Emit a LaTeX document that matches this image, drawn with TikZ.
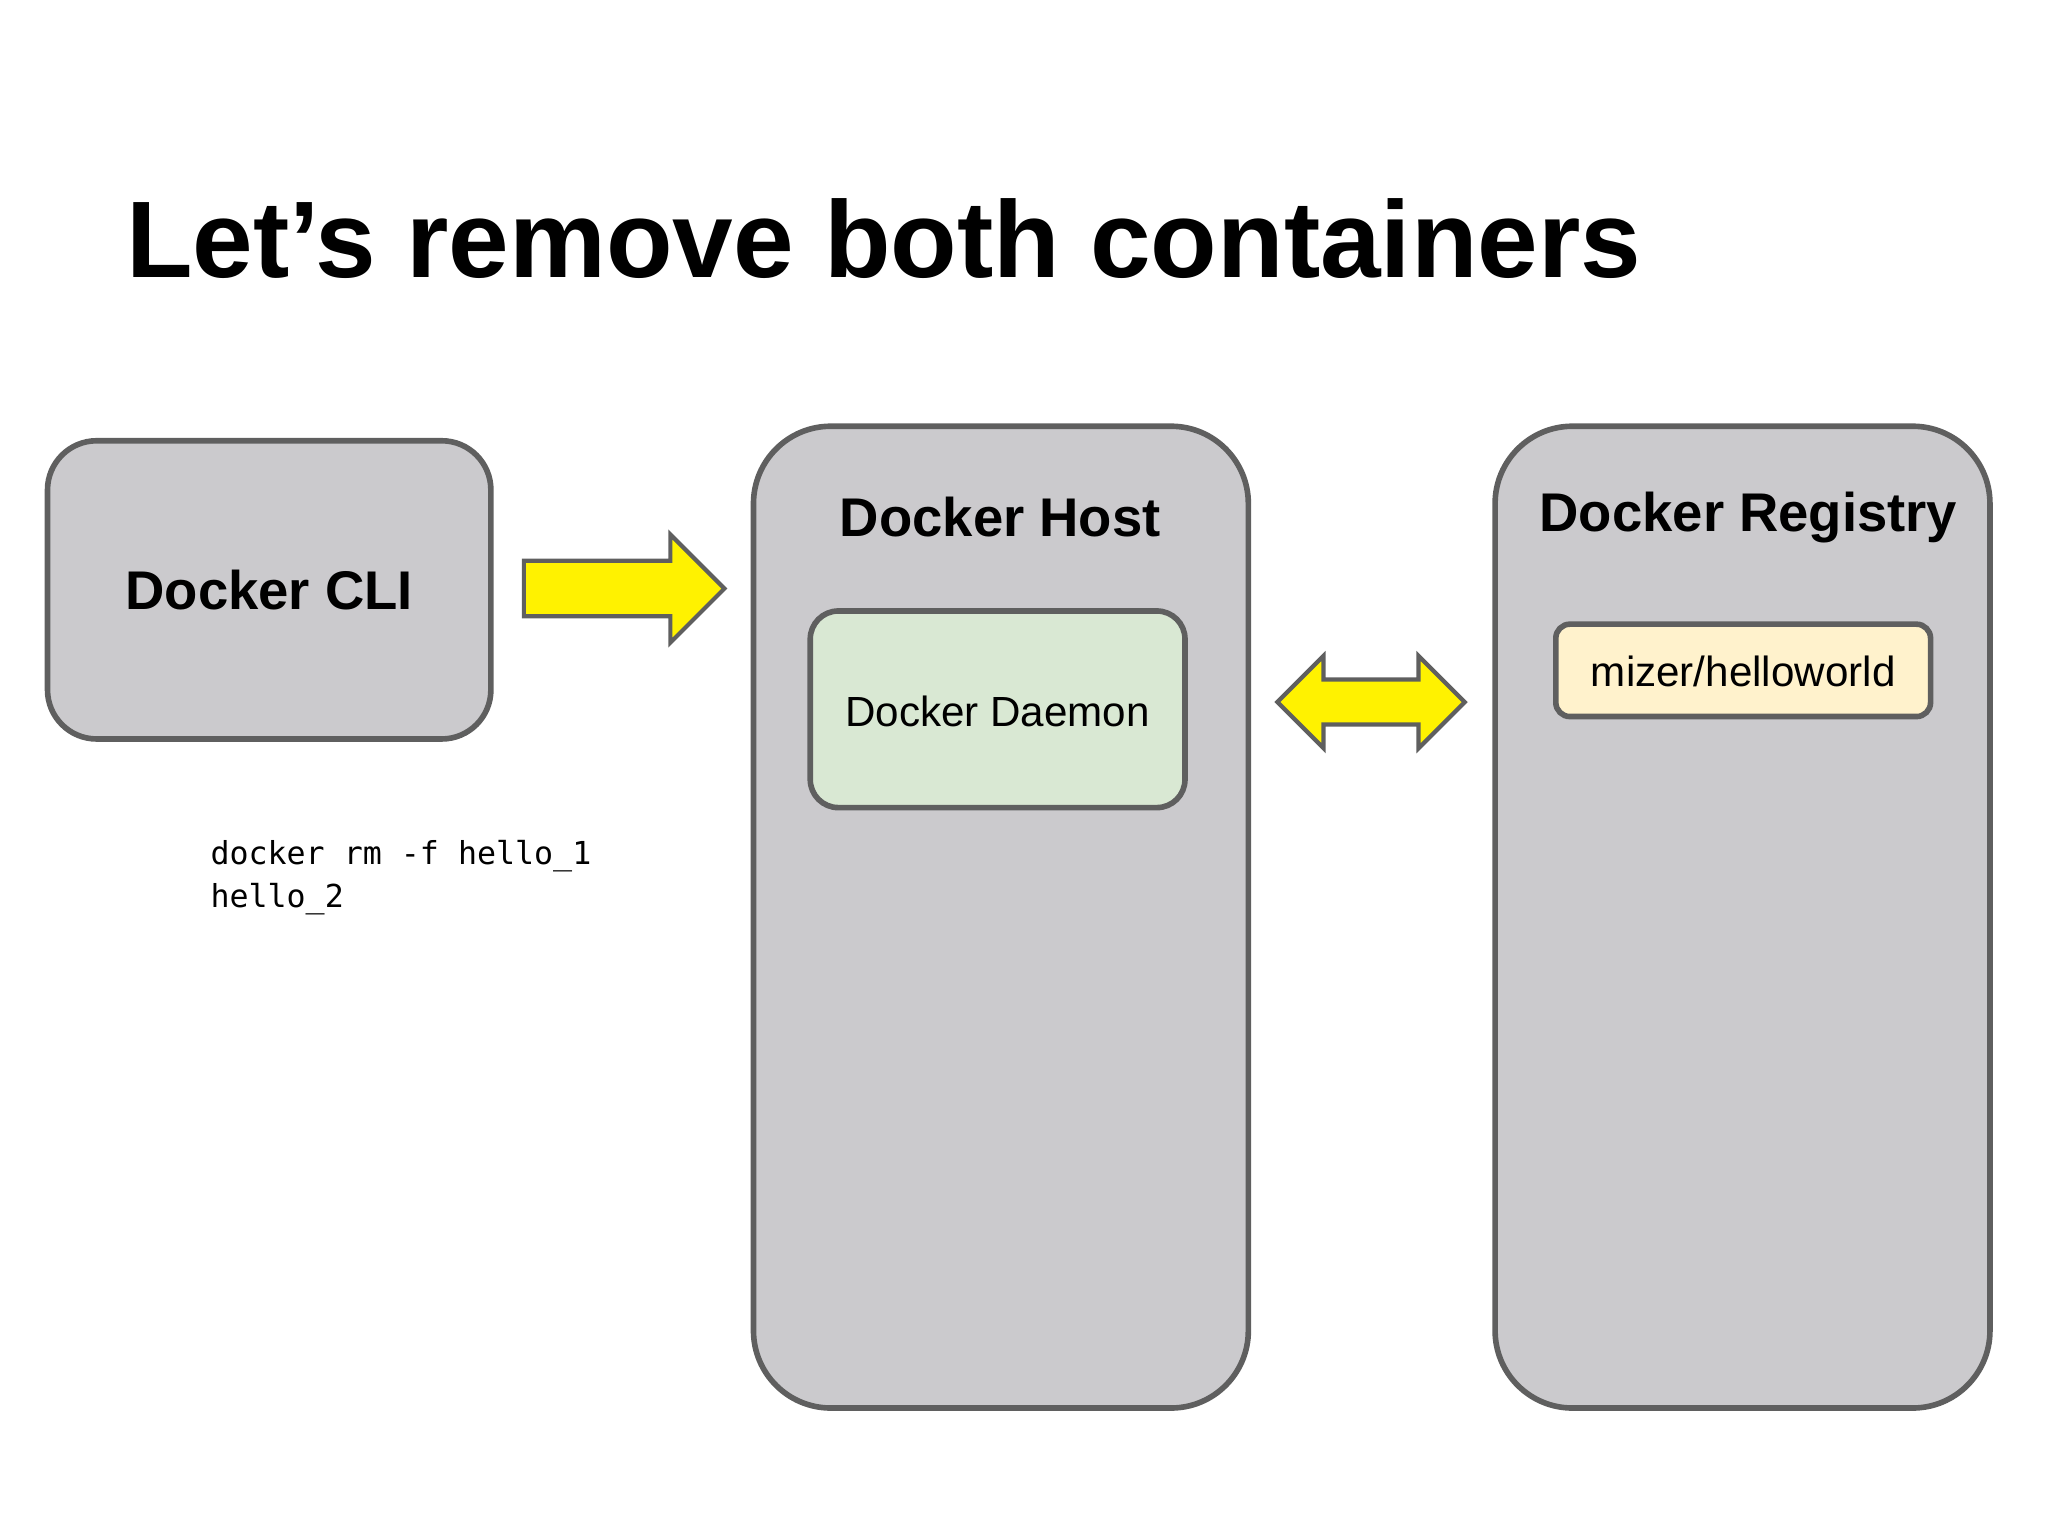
\documentclass[tikz,border=0pt]{standalone}
\usepackage{fontspec}
\setmainfont{Liberation Sans}
\newfontfamily\codefont{DejaVu Sans Mono}
\usetikzlibrary{shapes.arrows}
\definecolor{boxgray}{HTML}{CBCACD}
\definecolor{edgegray}{HTML}{5F5F5F}
\definecolor{daemongreen}{HTML}{D9E8D3}
\definecolor{imageyellow}{HTML}{FFF2CC}
\tikzset{
  panel/.style={draw=edgegray, line width=1.6pt, fill=boxgray},
  inner box/.style={draw=edgegray, line width=1.6pt, rounded corners=8pt},
  big arrow/.style={draw=edgegray, line width=1.2pt, fill=yellow}
}
\begin{document}
\begin{tikzpicture}[x=0.013196cm, y=-0.013196cm]
        \useasboundingbox (0,0) rectangle (1552,1164);

        % Title
        \node[anchor=base west, inner sep=0, font=\bfseries\fontsize{31}{36}\selectfont] (title) at (95,210) {Let’s remove both containers};

        % Panels
        \draw[panel, rounded corners=14pt] (36,334) rectangle (372,560);
        \node[font=\bfseries\fontsize{15.5}{18}\selectfont] (cli) at (204,447) {Docker CLI};

        \draw[panel, rounded corners=22pt] (571,323) rectangle (946,1067);
        \node[font=\bfseries\fontsize{15.5}{18}\selectfont] (host) at (758,392) {Docker Host};

        \draw[panel, rounded corners=22pt] (1133,323) rectangle (1508,1067);
        \node[font=\bfseries\fontsize{15.5}{18}\selectfont] (registry) at (1325,392) {Docker Registry};

        % Inner boxes
        \draw[inner box, fill=daemongreen] (614,463) rectangle (898,612);
        \node[font=\fontsize{12}{14}\selectfont] (daemon) at (756,539) {Docker Daemon};

        \draw[inner box, rounded corners=4pt, fill=imageyellow] (1179,473) rectangle (1463,543);
        \node[font=\fontsize{12}{14}\selectfont] (image) at (1321,509) {mizer/helloworld};

        % Arrows
        \draw[big arrow] (397,425) -- (508,425) -- (508,405) -- (549,446) -- (508,487)
            -- (508,467) -- (397,467) -- cycle;
        \draw[big arrow] (968,532) -- (1003,497) -- (1003,515) -- (1075,515) -- (1075,497)
            -- (1110,532) -- (1075,567) -- (1075,549) -- (1003,549) -- (1003,567) -- cycle;

        % Command
        \node[anchor=north west, inner sep=0, align=left, font=\codefont\fontsize{9}{12.3}\selectfont] (cmd) at (159,636)
            {docker rm -f hello\_1\\hello\_2};
\end{tikzpicture}
\end{document}
